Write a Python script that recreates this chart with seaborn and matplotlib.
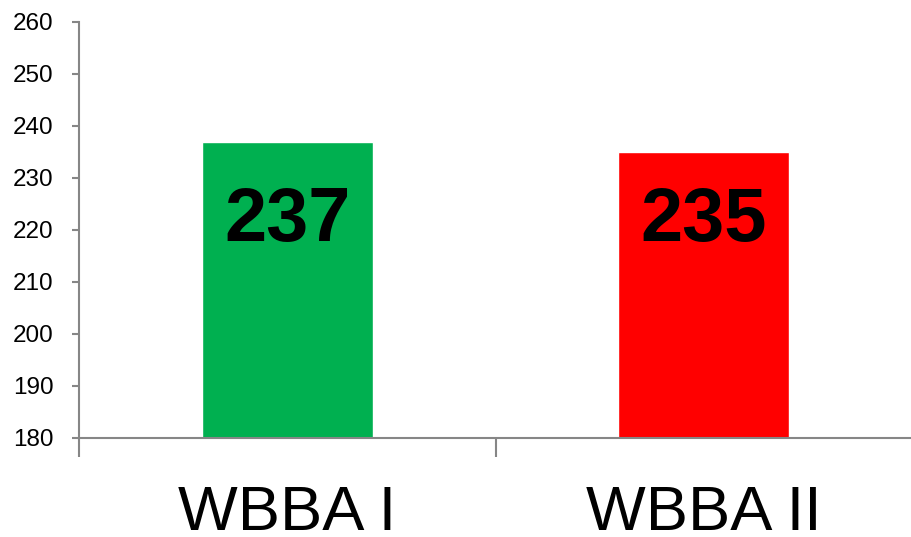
import matplotlib
matplotlib.use('Agg')
import matplotlib.pyplot as plt
import seaborn as sns
import pandas as pd

categories = ['WBBA I', 'WBBA II']
values = [237, 235]
bar_colors = ['#00B050', '#FF0000']
y_ticks = [180, 190, 200, 210, 220, 230, 240, 250, 260]

sns.set_style('white')
plt.rcParams['font.family'] = ['Liberation Sans', 'DejaVu Sans']

df = pd.DataFrame({'group': categories, 'value': values})

fig = plt.figure(figsize=(9.12, 5.37), dpi=100)
ax = fig.add_axes([79 / 912, 99 / 537, 1 - 79 / 912, 416 / 537])

sns.barplot(data=df, x='group', y='value', hue='group',
            palette=dict(zip(categories, bar_colors)), width=0.41,
            legend=False, saturation=1, ax=ax)

ax.set_xlim(-0.5, 1.5)
ax.set_ylim(180, 260)
ax.set_yticks(y_ticks)
ax.set_xlabel('')
ax.set_ylabel('')

# value labels inside the bars
for i, v in enumerate(values):
    ax.text(i, 217.8, str(v), ha='center', va='baseline',
            fontsize=54.5, fontweight='bold', color='black')

gray = '#868686'
for side in ['top', 'right']:
    ax.spines[side].set_visible(False)
for side in ['left', 'bottom']:
    ax.spines[side].set_color(gray)
    ax.spines[side].set_linewidth(1.5)

ax.tick_params(axis='y', length=5, width=1.5, color=gray, pad=13.5,
               labelsize=17.5, labelcolor='black', left=True)
ax.tick_params(axis='x', which='major', length=0, pad=33, labelsize=45.5,
               labelcolor='black')
ax.set_xticks([-0.5, 0.5], minor=True)
ax.tick_params(axis='x', which='minor', length=14, width=1.5, color=gray,
               bottom=True)

fig.savefig('out.png', dpi=100)
